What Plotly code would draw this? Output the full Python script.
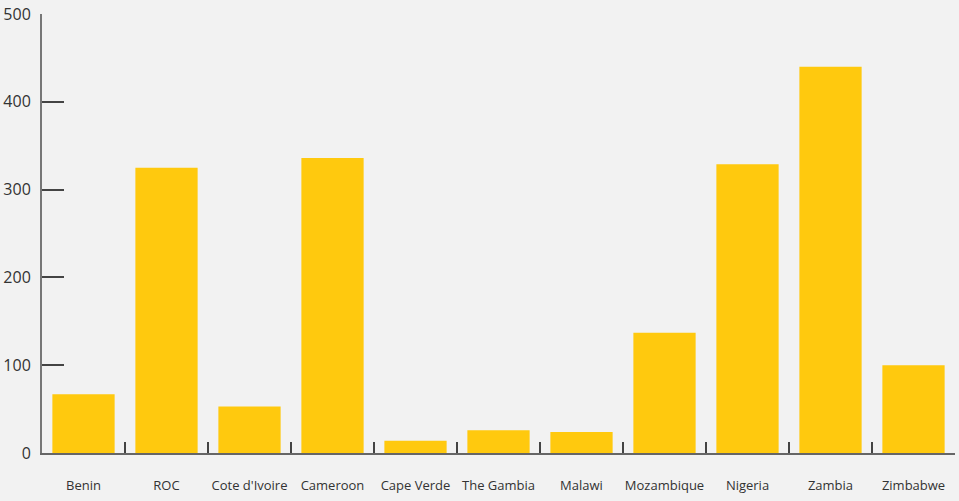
import plotly.graph_objects as go

countries = ["Benin", "ROC", "Cote d'Ivoire", "Cameroon", "Cape Verde", "The Gambia",
             "Malawi", "Mozambique", "Nigeria", "Zambia", "Zimbabwe"]
values = [67, 325, 53, 336, 14, 26, 24, 137, 329, 440, 100]
y_ticks = [0, 100, 200, 300, 400, 500]

fig = go.Figure(go.Bar(x=countries, y=values, marker=dict(color="#FFC90E", line=dict(width=0)),
                       hoverinfo="x+y"))

fig.update_layout(
    width=959, height=501,
    margin=dict(l=42, r=4, t=14, b=48),
    paper_bgcolor="#F2F2F2", plot_bgcolor="#F2F2F2",
    bargap=0.25,
    showlegend=False,
    font=dict(family="Open Sans, sans-serif", color="#333333"),
)
fig.update_xaxes(
    type="category", showline=True, linecolor="#666666", linewidth=2,
    ticks="inside", tickson="boundaries", ticklen=11, tickcolor="#444444", tickwidth=1.5,
    showgrid=False, zeroline=False, tickfont=dict(size=13, color="#333333"),
    tickangle=0, automargin=False, ticklabelstandoff=19,
)
fig.update_yaxes(
    range=[0, 500], tickvals=y_ticks, showline=True, linecolor="#777777", linewidth=2,
    ticks="inside", ticklen=22, tickcolor="#444444", tickwidth=1.5,
    showgrid=False, zeroline=False, tickfont=dict(size=16, color="#333333"),
    automargin=False, ticklabelstandoff=6,
)

fig.write_html(
    "out.html",
    config={"displayModeBar": False},
    post_script="document.body.style.margin='0';document.body.style.background='#F2F2F2';",
)
